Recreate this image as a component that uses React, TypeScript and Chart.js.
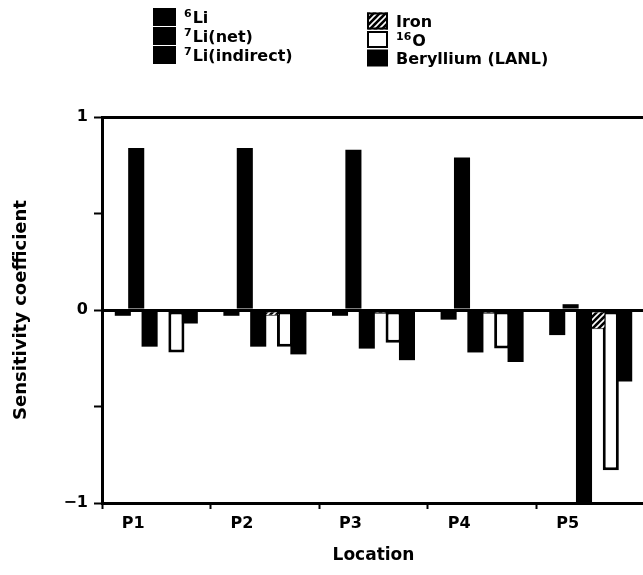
import { useEffect, useRef } from 'react';
import { Chart, registerables } from 'chart.js';

Chart.register(...registerables);

// Sensitivity coefficients per location and material
const locations = ['P1', 'P2', 'P3', 'P4', 'P5'];
const li6 = [-0.03, -0.03, -0.03, -0.05, -0.13];
const li7Net = [0.84, 0.84, 0.83, 0.79, 0.03];
const li7Indirect = [-0.19, -0.19, -0.2, -0.22, -1.0];
const iron = [-0.01, -0.03, -0.02, -0.02, -0.1];
const oxygen16 = [-0.22, -0.19, -0.17, -0.2, -0.83];
const beryllium = [-0.07, -0.23, -0.26, -0.27, -0.37];

// Labelled y ticks (minor marks at ±0.5 carry no text)
const yLabelled = [-1, 0, 1];

// Legend text: superscript mass number + name
const legendSup = ['6', '7', '7', '', '16', ''];
const legendName = ['Li', 'Li(net)', 'Li(indirect)', 'Iron', 'O', 'Beryllium (LANL)'];

const FONT = '"DejaVu Sans", Verdana, sans-serif';
const INK = '#000';

function makeHatch(): CanvasPattern | string {
  const c = document.createElement('canvas');
  c.width = 6;
  c.height = 6;
  const g = c.getContext('2d');
  if (!g) return '#555';
  g.fillStyle = INK;
  g.fillRect(0, 0, 6, 6);
  g.strokeStyle = '#fff';
  g.lineWidth = 1.6;
  g.beginPath();
  g.moveTo(0, 6); g.lineTo(6, 0);
  g.moveTo(-3, 3); g.lineTo(3, -3);
  g.moveTo(3, 9); g.lineTo(9, 3);
  g.stroke();
  return g.createPattern(c, 'repeat') || '#555';
}

// Two-column legend drawn above the plot
const twoColumnLegend = {
  id: 'twoColumnLegend',
  afterDraw(chart: any) {
    const ctx: CanvasRenderingContext2D = chart.ctx;
    const cols = [
      { x: 153, w: 23, h: 18, rows: [17, 36, 55] },
      { x: 367, w: 21, h: 17, rows: [21, 39.5, 58] },
    ];
    ctx.save();
    chart.data.datasets.forEach((ds: any, i: number) => {
      const col = cols[Math.floor(i / 3)];
      const cy = col.rows[i % 3];
      const top = cy - col.h / 2;
      ctx.fillStyle = ds.backgroundColor;
      ctx.fillRect(col.x, top, col.w, col.h);
      if (ds.borderWidth) {
        ctx.strokeStyle = INK;
        ctx.lineWidth = 2;
        ctx.strokeRect(col.x + 1, top + 1, col.w - 2, col.h - 2);
      }
      let tx = col.x + col.w + 8;
      ctx.fillStyle = INK;
      ctx.textBaseline = 'alphabetic';
      ctx.textAlign = 'left';
      const base = cy + 6;
      if (legendSup[i]) {
        ctx.font = `bold 11px ${FONT}`;
        ctx.fillText(legendSup[i], tx, base - 6);
        tx += ctx.measureText(legendSup[i]).width + 1;
      }
      ctx.font = `bold 16px ${FONT}`;
      ctx.fillText(legendName[i], tx, base);
    });
    ctx.restore();
  },
};

export default function App() {
  const ref = useRef<HTMLCanvasElement>(null);

  useEffect(() => {
    const canvas = ref.current;
    if (!canvas) return;
    const hatch = makeHatch();
    const solid = { backgroundColor: INK, borderWidth: 0 };
    const chart = new Chart(canvas, {
      type: 'bar',
      data: {
        labels: locations,
        datasets: [
          { label: '⁶Li', data: li6, ...solid },
          { label: '⁷Li(net)', data: li7Net, ...solid },
          { label: '⁷Li(indirect)', data: li7Indirect, ...solid },
          { label: 'Iron', data: iron, backgroundColor: hatch as any, borderColor: INK, borderWidth: 1, borderSkipped: false },
          { label: '¹⁶O', data: oxygen16, backgroundColor: '#fff', borderColor: INK, borderWidth: 3, borderSkipped: false },
          { label: 'Beryllium (LANL)', data: beryllium, ...solid },
        ],
      },
      options: {
        animation: false,
        responsive: false,
        devicePixelRatio: 1,
        layout: { padding: { left: 0, right: 0, top: 117, bottom: 0 } },
        datasets: { bar: { barPercentage: 1.2, categoryPercentage: 0.74 } },
        plugins: { legend: { display: false }, tooltip: { enabled: false } },
        scales: {
          x: {
            offset: true,
            grid: { drawOnChartArea: false, offset: true, tickLength: 6, tickColor: INK, tickWidth: 2 },
            border: { display: true, color: INK, width: 3 },
            ticks: { color: INK, font: { family: FONT, size: 16, weight: 'bold' }, labelOffset: -23, padding: 5 },
            title: {
              display: true,
              text: 'Location',
              color: INK,
              font: { family: FONT, size: 17, weight: 'bold' },
              padding: { top: 0, bottom: 9 },
            },
            afterFit: (s: any) => { s.height = 72; },
          },
          y: {
            min: -1,
            max: 1,
            ticks: {
              stepSize: 0.5,
              color: INK,
              padding: 6,
              font: { family: FONT, size: 16, weight: 'bold' },
              callback: (v: any) => (yLabelled.includes(Number(v)) ? (Number(v) < 0 ? '−' + Math.abs(Number(v)) : String(v)) : ''),
            },
            border: { display: true, color: INK, width: 3 },
            grid: {
              drawOnChartArea: true,
              color: (c: any) => (c.tick && (c.tick.value === 0 || c.tick.value === 1) ? INK : 'rgba(0,0,0,0)'),
              lineWidth: 3,
              tickColor: INK,
              tickLength: 8,
              tickWidth: 2,
            },
            title: {
              display: true,
              text: 'Sensitivity coefficient',
              color: INK,
              font: { family: FONT, size: 18, weight: 'bold' },
              padding: { top: 11, bottom: 0 },
            },
            afterFit: (s: any) => { s.width = 102; },
          },
        },
      },
      plugins: [twoColumnLegend],
    });
    return () => chart.destroy();
  }, []);

  return (
    <div style={{ position: 'absolute', left: 0, top: 0, width: 643, height: 575, overflow: 'hidden', background: '#fff' }}>
      <canvas ref={ref} width={645} height={575} style={{ display: 'block', width: 645, height: 575 }} />
    </div>
  );
}
